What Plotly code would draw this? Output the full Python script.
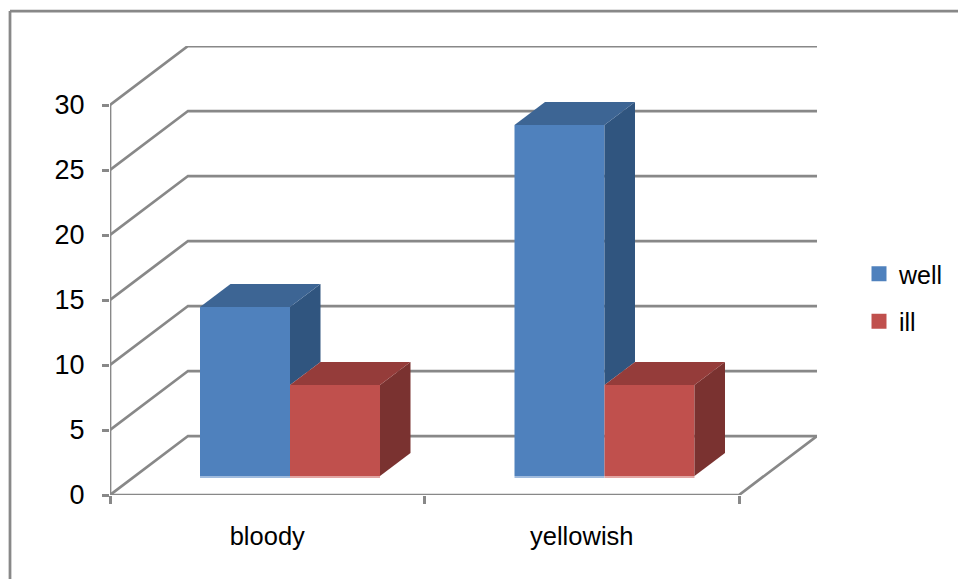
import plotly.graph_objects as go

# ---- data ----
categories = ["bloody", "yellowish"]
well = [13, 27]
ill = [7, 7]
y_ticks = [0, 5, 10, 15, 20, 25, 30]

# ---- geometry of the oblique projection (in axis units) ----
W, H = 958, 579
PX_X = 314.5          # pixels per category
PX_Y = 13.0           # pixels per value unit
DX, DY = 78 / PX_X, 59 / PX_Y      # wall depth
BAR_W = 90 / PX_X
BAR_LEFT = 90 / PX_X
BASE = 19 / PX_Y
SDX, SDY = 30.5 / PX_X, 23 / PX_Y  # bar depth

GRID = "#888888"
LW = 2.75
BLUE, BLUE_TOP, BLUE_SIDE, BLUE_EDGE = "#4F81BD", "#3D6594", "#30557F", "#A0BBDD"
RED, RED_TOP, RED_SIDE, RED_EDGE = "#C0504D", "#953C3A", "#7A3230", "#E2A6A4"
FONT = "Liberation Sans, Arial, sans-serif"

fig = go.Figure()

xw = [i + BAR_LEFT + BAR_W / 2 for i in range(len(categories))]
xi = [i + BAR_LEFT + BAR_W * 3 / 2 for i in range(len(categories))]

# front faces
fig.add_bar(x=xw, y=well, base=BASE, width=BAR_W, marker=dict(color=BLUE, line_width=0), showlegend=False)
fig.add_bar(x=xi, y=ill, base=BASE, width=BAR_W, marker=dict(color=RED, line_width=0), showlegend=False)


def poly(xs, ys, color):
    fig.add_scatter(x=xs, y=ys, mode="lines", fill="toself", fillcolor=color,
                    line=dict(width=0, color=color), showlegend=False, hoverinfo="skip",
                    cliponaxis=False)


def edge(xs, ys, color):
    fig.add_scatter(x=xs, y=ys, mode="lines", line=dict(width=2, color=color),
                    showlegend=False, hoverinfo="skip", cliponaxis=False)


for cx, v, other in zip(xw, well, ill):
    l, r = cx - BAR_W / 2, cx + BAR_W / 2
    top = BASE + v
    low = BASE + other      # lower part of this side is hidden by the neighbouring bar
    poly([r, r + SDX, r + SDX, r, r], [low, low + SDY, top + SDY, top, low], BLUE_SIDE)
    poly([l, l + SDX, r + SDX, r, l], [top, top + SDY, top + SDY, top, top], BLUE_TOP)
    edge([l, r], [BASE - 0.08, BASE - 0.08], BLUE_EDGE)

for cx, v in zip(xi, ill):
    l, r = cx - BAR_W / 2, cx + BAR_W / 2
    top = BASE + v
    poly([r, r + SDX, r + SDX, r, r], [BASE, BASE + SDY, top + SDY, top, BASE], RED_SIDE)
    poly([l, l + SDX, r + SDX, r, l], [top, top + SDY, top + SDY, top, top], RED_TOP)
    edge([l, r], [BASE - 0.08, BASE - 0.08], RED_EDGE)

# legend entries
for name, color in (("well", BLUE), ("ill", RED)):
    fig.add_scatter(x=[None], y=[None], mode="markers", name=name, legendgroup=name,
                    marker=dict(symbol="square", size=15, color=color))

n = len(categories)
shapes = []
for v in y_ticks:
    shapes.append(dict(type="path", layer="below", xref="x", yref="y",
                       path=f"M0,{v} L{DX},{v + DY} L{n + DX},{v + DY}",
                       line=dict(color=GRID, width=LW)))
# floor and front axis lines
shapes += [
    dict(type="path", layer="below", xref="x", yref="y",
         path=f"M0,0 L{n},0 L{n + DX},{DY}", line=dict(color=GRID, width=LW)),
    dict(type="line", layer="below", xref="x", yref="y", x0=0, x1=0, y0=0, y1=max(y_ticks),
         line=dict(color=GRID, width=LW)),
    # outer chart frame
    dict(type="line", xref="paper", yref="paper", x0=10 / W, x1=1, y0=1 - 11 / H, y1=1 - 11 / H,
         line=dict(color=GRID, width=LW)),
    dict(type="line", xref="paper", yref="paper", x0=10 / W, x1=10 / W, y0=0, y1=1 - 11 / H,
         line=dict(color=GRID, width=LW)),
]

fig.update_layout(
    width=W, height=H, autosize=False,
    margin=dict(l=0, r=0, t=0, b=0, pad=0, autoexpand=False),
    paper_bgcolor="white", plot_bgcolor="rgba(0,0,0,0)",
    barmode="overlay", shapes=shapes,
    font=dict(family=FONT, size=25, color="black"),
    legend=dict(x=859 / W, y=1 - 251 / H, xanchor="left", yanchor="top",
                tracegroupgap=12, font=dict(size=25), bgcolor="rgba(0,0,0,0)",
                itemclick=False, itemdoubleclick=False),
    xaxis=dict(domain=[110 / W, 817 / W], range=[0, 707 / PX_X], automargin=False,
               showgrid=False, zeroline=False, showline=False,
               tickmode="array", tickvals=[i + 0.5 for i in range(n)], ticktext=categories,
               ticks="", ticklabelstandoff=23, tickfont=dict(size=25.5),
               minor=dict(tickmode="array", tickvals=list(range(n + 1)), ticks="outside",
                          ticklen=8, tickwidth=LW, tickcolor=GRID, showgrid=False)),
    yaxis=dict(domain=[(H - 495) / H, (H - 46) / H], range=[0, 449 / PX_Y], automargin=False,
               showgrid=False, zeroline=False, showline=False,
               tickmode="array", tickvals=y_ticks, ticks="outside", ticklen=7, tickwidth=LW,
               tickcolor=GRID, ticklabelstandoff=12, tickfont=dict(size=27)),
)

fig.write_html("out.html", config={"displayModeBar": False},
               post_script="document.body.style.margin='0';document.body.style.overflow='hidden';")
